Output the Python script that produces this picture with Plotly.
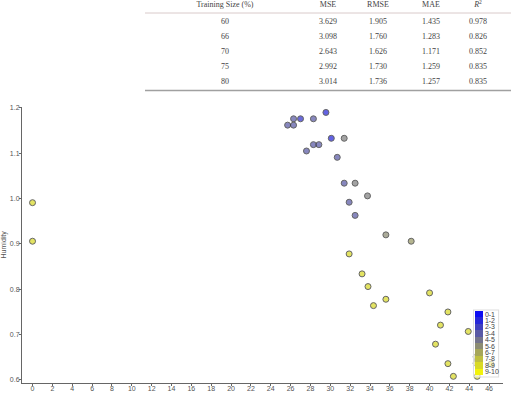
import plotly.graph_objects as go

# ---- table data ----
train_size = ["60", "66", "70", "75", "80"]
mse = ["3.629", "3.098", "2.643", "2.992", "3.014"]
rmse = ["1.905", "1.760", "1.626", "1.730", "1.736"]
mae = ["1.435", "1.283", "1.171", "1.259", "1.257"]
r2 = ["0.978", "0.826", "0.852", "0.835", "0.835"]
table_headers = ["Training Size (%)", "MSE", "RMSE", "MAE", "<i>R</i><sup>2</sup>"]

# ---- scatter data ----
temperature = [29.56, 26.3, 27.0, 28.3, 25.7, 26.3, 30.1, 31.4, 28.3, 28.85,
               27.6, 30.7, 31.4, 32.5, 33.75, 31.9, 32.5, 35.6, 38.15, 31.9,
               33.2, 33.8, 40.0, 35.6, 34.35, 41.85, 41.1, 43.9, 40.6, 44.7,
               44.7, 41.85, 46.2, 42.4, 44.8, 0.0, 0.0]
humidity = [1.190, 1.176, 1.176, 1.176, 1.162, 1.162, 1.133, 1.133, 1.119, 1.119,
            1.105, 1.091, 1.034, 1.034, 1.006, 0.992, 0.963, 0.920, 0.906, 0.878,
            0.834, 0.806, 0.792, 0.778, 0.764, 0.750, 0.721, 0.707, 0.679, 0.651,
            0.637, 0.636, 0.635, 0.608, 0.608, 0.991, 0.906]
level = [1.5, 3.5, 2.0, 3.5, 3.5, 3.5, 1.5, 5.0, 3.5, 3.5,
         3.5, 3.5, 3.5, 5.0, 5.0, 3.5, 3.5, 5.5, 6.0, 8.5,
         8.5, 8.5, 8.5, 8.5, 8.5, 8.5, 8.5, 8.5, 8.5, 6.5,
         7.5, 8.5, 8.5, 8.5, 9.0, 8.5, 8.5]
bin_labels = ["0-1", "1-2", "2-3", "3-4", "4-5", "5-6", "6-7", "7-8", "8-9", "9-10"]
x_ticks = list(range(0, 47, 2))
y_ticks = [0.6, 0.7, 0.8, 0.9, 1.0, 1.1, 1.2]

# ---- layout constants (pixels) ----
W, H = 511, 395
TABLE_LEFT, TABLE_BOTTOM = 145, 91
COL_CENTERS = [225, 328, 378, 431, 478]
HEADER_Y, ROW0_Y, ROW_STEP = 5, 22, 15

def px_x(p): return p / W
def px_y(p): return (H - p) / H

blue = (0, 0, 255)
yellow = (255, 255, 0)
def mix(t):
    c = [round(blue[i] + (yellow[i] - blue[i]) * t) for i in range(3)]
    return "rgb(%d,%d,%d)" % tuple(c)

cont_scale = [[0, mix(0)], [1, mix(1)]]
step_scale = []
n = len(bin_labels)
for i in range(n):
    col = mix(1 - (i + 0.5) / n)
    step_scale.append([i / n, col])
    step_scale.append([(i + 1) / n, col])

fig = go.Figure()

# ---- table as text on its own axes ----
serif = dict(family="Liberation Serif", size=8, color="#444")
columns = [train_size, mse, rmse, mae, r2]
fig.add_trace(go.Scatter(
    x=COL_CENTERS, y=[HEADER_Y] * len(table_headers), text=table_headers,
    mode="text", textfont=serif, xaxis="x2", yaxis="y2",
    showlegend=False, hoverinfo="skip", cliponaxis=False,
))
for ci, col in enumerate(columns):
    fig.add_trace(go.Scatter(
        x=[COL_CENTERS[ci]] * len(col),
        y=[ROW0_Y + ROW_STEP * r for r in range(len(col))],
        text=col, mode="text", textfont=serif, xaxis="x2", yaxis="y2",
        showlegend=False, hoverinfo="skip", cliponaxis=False,
    ))

# ---- scatter ----
fig.add_trace(go.Scatter(
    x=temperature, y=humidity, mode="markers",
    marker=dict(size=6, color=level, colorscale=cont_scale, cmin=0, cmax=10,
                opacity=0.72, line=dict(color="#2a2a2a", width=1), showscale=False),
    showlegend=False, hoverinfo="skip",
))

# ---- legend colour bar ----
fig.add_trace(go.Scatter(
    x=[None], y=[None], mode="markers",
    marker=dict(size=1, color=[5], colorscale=step_scale, cmin=0, cmax=10,
                showscale=True,
                colorbar=dict(
                    x=px_x(474), xanchor="left", y=px_y(343), yanchor="middle",
                    lenmode="pixels", len=66, thickness=8,
                    thicknessmode="pixels", xpad=1, ypad=1,
                    tickvals=[n - 0.5 - i for i in range(n)], ticktext=bin_labels,
                    ticks="", outlinewidth=0,
                    bgcolor="rgba(255,255,255,0.6)", bordercolor="#ddd", borderwidth=1,
                    tickfont=dict(family="Liberation Sans", size=7, color="#444"),
                )),
    showlegend=False, hoverinfo="skip",
))

axis_font = dict(family="Liberation Sans", size=7, color="#555")
fig.update_layout(
    width=W, height=H, margin=dict(l=0, r=0, t=0, b=0),
    paper_bgcolor="white", plot_bgcolor="white",
    xaxis=dict(domain=[px_x(22), px_x(503)], range=[-1.06, 47.4],
               tickvals=x_ticks, ticks="outside", ticklen=2, tickcolor="#666",
               ticklabelstandoff=-3,
               showgrid=False, zeroline=False, showline=True, linecolor="#666",
               linewidth=1, tickfont=axis_font, automargin=False),
    yaxis=dict(domain=[px_y(382.7), px_y(107)], range=[0.594, 1.202],
               tickvals=y_ticks, tickformat=".1f", ticks="outside", ticklen=2,
               ticklabelstandoff=-2,
               tickcolor="#666", showgrid=False, zeroline=False, showline=True,
               linecolor="#666", linewidth=1, tickfont=axis_font, automargin=False,
               title=dict(text="Humidity", font=axis_font, standoff=4)),
    xaxis2=dict(domain=[px_x(TABLE_LEFT), 1.0], range=[TABLE_LEFT, W],
                visible=False, fixedrange=True),
    yaxis2=dict(domain=[px_y(TABLE_BOTTOM), 1.0], range=[TABLE_BOTTOM, 0],
                visible=False, fixedrange=True),
    annotations=[dict(text="Temperature", xref="paper", yref="paper",
                      x=(px_x(22) + px_x(503)) / 2, y=px_y(399),
                      xanchor="center", yanchor="middle", showarrow=False,
                      font=axis_font)],
    shapes=[
        dict(type="line", xref="paper", yref="paper", x0=px_x(TABLE_LEFT), x1=1.0,
             y0=px_y(13), y1=px_y(13), line=dict(color="#d9caca", width=1)),
        dict(type="line", xref="paper", yref="paper", x0=px_x(TABLE_LEFT), x1=1.0,
             y0=px_y(90.5), y1=px_y(90.5), line=dict(color="#a0a0a0", width=1.5)),
    ],
)

fig.write_html("out.html")
